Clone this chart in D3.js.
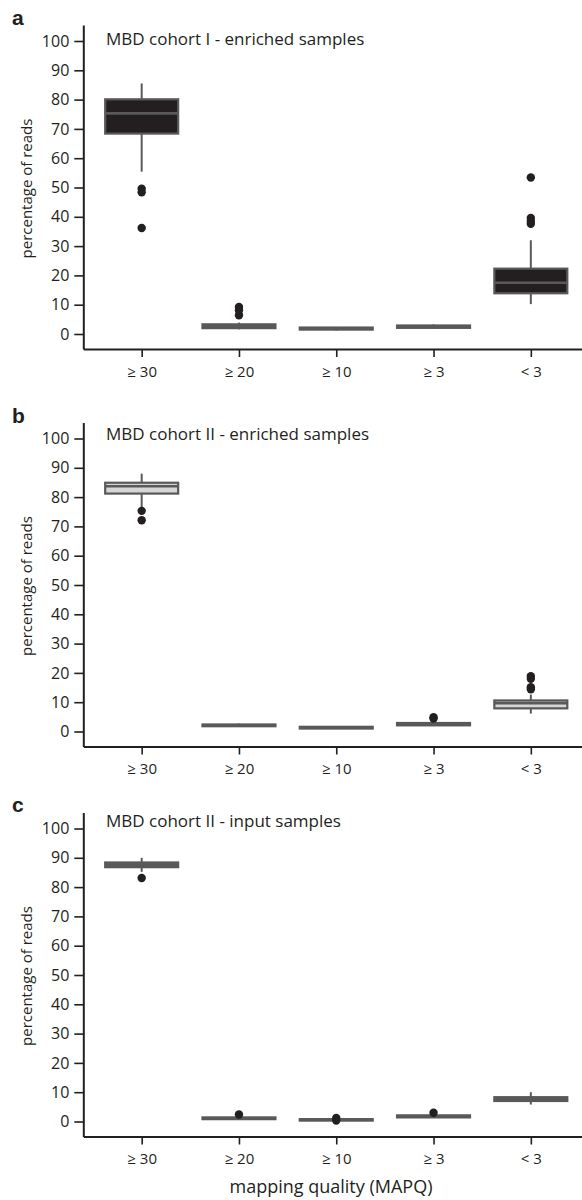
<!DOCTYPE html>
<html>
<head>
<meta charset="utf-8">
<script src="https://cdn.jsdelivr.net/npm/d3@7"></script>
<style>
  html, body { margin: 0; padding: 0; background: #fff; }
  svg { display: block; }
  text { font-family: "Open Sans", "DejaVu Sans", sans-serif; fill: #231f20; }
</style>
</head>
<body>
<svg id="chart" width="582" height="1200"></svg>
<script>
// Mapping-quality categories and shared axis ticks
const categories = ["≥ 30", "≥ 20", "≥ 10", "≥ 3", "< 3"];
const yTicks = [0, 10, 20, 30, 40, 50, 60, 70, 80, 90, 100];
const panelLetters = ["a", "b", "c"];
const panelTitles = [
  "MBD cohort I - enriched samples",
  "MBD cohort II - enriched samples",
  "MBD cohort II - input samples"
];

// a: MBD cohort I, enriched samples (percentage of reads)
const cohortIEnrichedLow    = [55.4, 1.6, 1.2, 1.8, 10.2];
const cohortIEnrichedQ1     = [68.4, 2.0, 1.5, 2.1, 13.9];
const cohortIEnrichedMedian = [75.3, 2.7, 1.8, 2.5, 17.5];
const cohortIEnrichedQ3     = [80.1, 3.3, 2.2, 2.9, 22.3];
const cohortIEnrichedHigh   = [85.5, 3.9, 2.4, 3.3, 32.0];
const cohortIEnrichedOut    = [[49.6, 48.4, 36.2], [9.2, 8.1, 6.4], [], [], [53.4, 39.6, 38.6, 37.6]];

// b: MBD cohort II, enriched samples
const cohortIIEnrichedLow    = [76.2, 1.7, 0.9, 1.9, 6.1];
const cohortIIEnrichedQ1     = [81.2, 1.8, 1.0, 2.1, 7.9];
const cohortIIEnrichedMedian = [83.7, 2.1, 1.3, 2.5, 9.7];
const cohortIIEnrichedQ3     = [84.9, 2.4, 1.6, 2.9, 10.6];
const cohortIIEnrichedHigh   = [88.0, 2.7, 1.8, 3.3, 12.6];
const cohortIIEnrichedOut    = [[75.3, 72.1], [], [], [4.9, 4.4], [18.9, 18.0, 15.1, 14.4]];

// c: MBD cohort II, input samples
const cohortIIInputLow    = [85.2, 0.6, 0.1, 1.2, 5.8];
const cohortIIInputQ1     = [86.8, 0.8, 0.3, 1.4, 7.0];
const cohortIIInputMedian = [87.6, 1.1, 0.6, 1.8, 7.6];
const cohortIIInputQ3     = [88.4, 1.4, 0.8, 2.1, 8.3];
const cohortIIInputHigh   = [90.0, 1.6, 1.0, 2.4, 10.0];
const cohortIIInputOut    = [[83.1], [2.4], [1.2, 0.3], [3.0], []];

function boxRows(low, q1, med, q3, high, out) {
  return categories.map((c, i) => ({
    cat: c, low: low[i], q1: q1[i], med: med[i], q3: q3[i], high: high[i], out: out[i]
  }));
}

const panels = [
  { rows: boxRows(cohortIEnrichedLow, cohortIEnrichedQ1, cohortIEnrichedMedian, cohortIEnrichedQ3, cohortIEnrichedHigh, cohortIEnrichedOut),
    top: 25, bottom: 349, fill: "#231f20", titleY: 45, letterY: 25 },
  { rows: boxRows(cohortIIEnrichedLow, cohortIIEnrichedQ1, cohortIIEnrichedMedian, cohortIIEnrichedQ3, cohortIIEnrichedHigh, cohortIIEnrichedOut),
    top: 422.5, bottom: 746.5, fill: "#d6d6d6", titleY: 440, letterY: 423 },
  { rows: boxRows(cohortIIInputLow, cohortIIInputQ1, cohortIIInputMedian, cohortIIInputQ3, cohortIIInputHigh, cohortIIInputOut),
    top: 812.5, bottom: 1136.5, fill: "#666666", titleY: 826.5, letterY: 812 }
];

const svg = d3.select("#chart");
svg.append("rect").attr("width", 582).attr("height", 1200).attr("fill", "#fff");

const left = 83.3, right = 589.2;
const x = d3.scalePoint().domain(categories).range([left, right]).padding(0.6);
const boxW = x.step() * 0.75;
const boxStroke = "#595959";

panels.forEach((p, pi) => {
  const y = d3.scaleLinear().domain([-5.12, 105.46]).range([p.bottom, p.top]);
  const g = svg.append("g");

  // panel letter
  g.append("text")
    .attr("x", 12).attr("y", p.letterY)
    .style("font-family", "'Liberation Sans', Arial, sans-serif")
    .style("font-weight", "bold").style("font-size", "21px")
    .text(panelLetters[pi]);

  // panel title
  g.append("text")
    .attr("x", 106).attr("y", p.titleY)
    .style("font-size", "17px")
    .text(panelTitles[pi]);

  // y axis
  const ya = g.append("g")
    .attr("transform", `translate(${left},0)`)
    .call(d3.axisLeft(y).tickValues(yTicks).tickSize(9).tickSizeOuter(0).tickPadding(5));
  ya.select(".domain").attr("stroke", "#231f20").attr("stroke-width", 2);
  ya.selectAll(".tick line").attr("stroke", "#231f20").attr("stroke-width", 1.6);
  ya.selectAll(".tick text").style("font-size", "16px").style("font-family", "'Open Sans', sans-serif").attr("fill", "#231f20");

  // x axis
  const xa = g.append("g")
    .attr("transform", `translate(0,${p.bottom})`)
    .call(d3.axisBottom(x).tickSize(8).tickSizeOuter(0).tickPadding(9));
  xa.select(".domain").attr("stroke", "#231f20").attr("stroke-width", 2);
  xa.selectAll(".tick line").attr("stroke", "#231f20").attr("stroke-width", 1.6);
  xa.selectAll(".tick text").style("font-size", "15px").style("font-family", "'Open Sans', sans-serif").attr("fill", "#231f20");

  // y axis title
  const cy = (y(0) + y(100)) / 2 + 1;
  g.append("text")
    .attr("transform", `translate(32,${cy}) rotate(-90)`)
    .attr("text-anchor", "middle")
    .style("font-size", "15px")
    .text("percentage of reads");

  // boxes
  const boxes = g.selectAll(".box").data(p.rows).join("g").attr("class", "box");
  boxes.append("line")
    .attr("x1", d => x(d.cat)).attr("x2", d => x(d.cat))
    .attr("y1", d => y(d.high)).attr("y2", d => y(d.q3))
    .attr("stroke", boxStroke).attr("stroke-width", 2);
  boxes.append("line")
    .attr("x1", d => x(d.cat)).attr("x2", d => x(d.cat))
    .attr("y1", d => y(d.q1)).attr("y2", d => y(d.low))
    .attr("stroke", boxStroke).attr("stroke-width", 2);
  boxes.append("rect")
    .attr("x", d => x(d.cat) - boxW / 2).attr("width", boxW)
    .attr("y", d => y(d.q3)).attr("height", d => Math.max(0.5, y(d.q1) - y(d.q3)))
    .attr("fill", p.fill).attr("stroke", boxStroke).attr("stroke-width", 2.2);
  boxes.append("line")
    .attr("x1", d => x(d.cat) - boxW / 2).attr("x2", d => x(d.cat) + boxW / 2)
    .attr("y1", d => y(d.med)).attr("y2", d => y(d.med))
    .attr("stroke", boxStroke).attr("stroke-width", 2.6);
  boxes.selectAll("circle").data(d => d.out.map(v => ({ cat: d.cat, v })))
    .join("circle")
    .attr("cx", d => x(d.cat)).attr("cy", d => y(d.v)).attr("r", 4.2)
    .attr("fill", "#231f20");
});

// shared x axis title
svg.append("text")
  .attr("x", 331)
  .attr("y", 1193)
  .attr("text-anchor", "middle")
  .style("font-size", "18px")
  .text("mapping quality (MAPQ)");
</script>
</body>
</html>
